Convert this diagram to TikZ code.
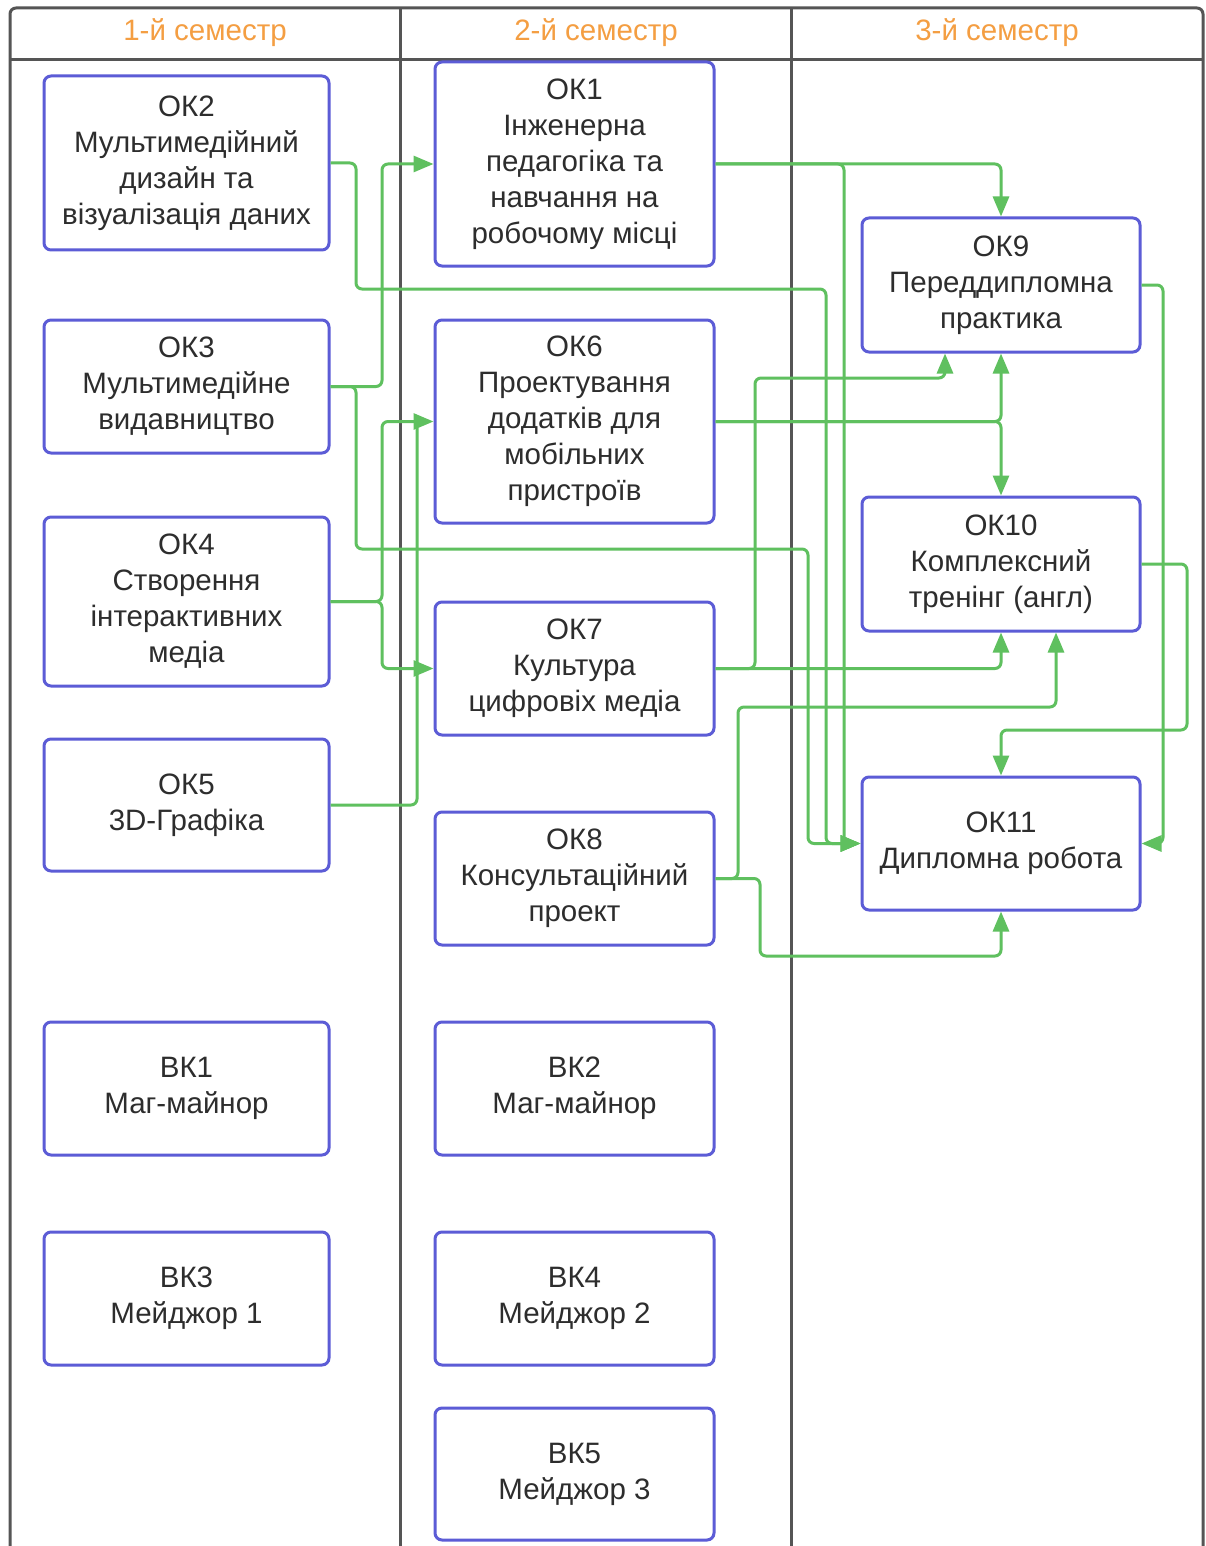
\documentclass[tikz,border=0pt]{standalone}
\usepackage{fontspec}
\setmainfont{Liberation Sans}
\usetikzlibrary{arrows.meta,calc}
\definecolor{boxblue}{RGB}{92,92,214}
\definecolor{conngreen}{RGB}{95,192,95}
\definecolor{gridgray}{RGB}{85,85,85}
\definecolor{hdrorange}{RGB}{244,158,66}
\definecolor{txtgray}{RGB}{45,45,45}
\tikzset{
  course/.style={draw=boxblue, line width=3pt, rounded corners=7pt, fill=white,
    align=center, text=txtgray, inner sep=0pt,
    font=\fontsize{29.5}{36}\selectfont},
  conn/.style={draw=conngreen, line width=3pt, rounded corners=6pt},
  arr/.style={conn, -{Triangle[length=20pt,width=16pt]}},
  grid/.style={draw=gridgray, line width=3pt},
  hdr/.style={text=hdrorange, font=\fontsize{29.5}{32}\selectfont}
}
\begin{document}
\begin{tikzpicture}[x=1pt,y=-1pt]
\useasboundingbox (0,0) rectangle (1205,1546);
\fill[white] (0,0) rectangle (1205,1546);
% table
\draw[grid, rounded corners=6pt] (10,1560) -- (10,8) -- (1203,8) -- (1203,1560);
\draw[grid] (10,60) -- (1203,60);
\draw[grid] (400,8) -- (400,1560);
\draw[grid] (791,8) -- (791,1560);
\node[hdr] (h1) at (205,33) {1-й семестр};
\node[hdr] (h2) at (596,33) {2-й семестр};
\node[hdr] (h3) at (997,33) {3-й семестр};
% column 1
\node[course, minimum width=285pt, minimum height=174pt] (ok2) at (186.5,163) {ОК2\\Мультимедійний\\дизайн та\\візуалізація даних};
\node[course, minimum width=285pt, minimum height=133pt] (ok3) at (186.5,386.5) {ОК3\\Мультимедійне\\видавництво};
\node[course, minimum width=285pt, minimum height=169pt] (ok4) at (186.5,601.5) {ОК4\\Створення\\інтерактивних\\медіа};
\node[course, minimum width=285pt, minimum height=132pt] (ok5) at (186.5,805) {ОК5\\3D-Графіка};
\node[course, minimum width=285pt, minimum height=133pt] (bk1) at (186.5,1088.5) {ВК1\\Маг-майнор};
\node[course, minimum width=285pt, minimum height=133pt] (bk3) at (186.5,1298.5) {ВК3\\Мейджор 1};
% column 2
\node[course, minimum width=279pt, minimum height=204pt] (ok1) at (574.5,164) {ОК1\\Інженерна\\педагогіка та\\навчання на\\робочому місці};
\node[course, minimum width=279pt, minimum height=203pt] (ok6) at (574.5,421.5) {ОК6\\Проектування\\додатків для\\мобільних\\пристроїв};
\node[course, minimum width=279pt, minimum height=133pt] (ok7) at (574.5,668.5) {ОК7\\Культура\\цифровіх медіа};
\node[course, minimum width=279pt, minimum height=133pt] (ok8) at (574.5,878.5) {ОК8\\Консультаційний\\проект};
\node[course, minimum width=279pt, minimum height=133pt] (bk2) at (574.5,1088.5) {ВК2\\Маг-майнор};
\node[course, minimum width=279pt, minimum height=133pt] (bk4) at (574.5,1298.5) {ВК4\\Мейджор 2};
\node[course, minimum width=279pt, minimum height=132pt] (bk5) at (574.5,1474) {ВК5\\Мейджор 3};
% column 3
\node[course, minimum width=278pt, minimum height=134pt] (ok9) at (1001,285) {ОК9\\Переддипломна\\практика};
\node[course, minimum width=278pt, minimum height=134pt] (ok10) at (1001,564) {ОК10\\Комплексний\\тренінг (англ)};
\node[course, minimum width=278pt, minimum height=133pt] (ok11) at (1001,843.5) {ОК11\\Дипломна робота};
% connectors
\draw[arr] (ok2.east) -| (356,289) -- (826,289) |- (ok11.west);
\draw[arr] (ok1.east) -| (ok9.north);
\draw[arr] (ok1.east) -- (844,164) |- (ok11.west);
\draw[arr] (ok3.east) -- (382,386.5) |- (ok1.west);
\draw[arr] (ok3.east) -| (356,549) -- (808,549) |- (ok11.west);
\draw[arr] (ok4.east) -- (382,601.5) |- (ok6.west);
\draw[arr] (ok4.east) -- (382,601.5) |- (ok7.west);
\draw[conn] (ok5.east) -| (417,428);
\draw[arr] (ok6.east) -| (ok9.south);
\draw[arr] (ok6.east) -| (ok10.north);
\draw[arr] (ok7.east) -| (ok10.south);
\draw[arr] (ok7.east) -| (755,378) -| ($(ok9.south)+(-56,0)$);
\draw[arr] (ok8.east) -| (738,707) -| ($(ok10.south)+(55,0)$);
\draw[arr] (ok8.east) -| (760,956) -| (ok11.south);
\draw[arr] (ok9.east) -- (1163,285) |- (ok11.east);
\draw[arr] (ok10.east) -| (1187,730) -| (ok11.north);
\end{tikzpicture}
\end{document}
